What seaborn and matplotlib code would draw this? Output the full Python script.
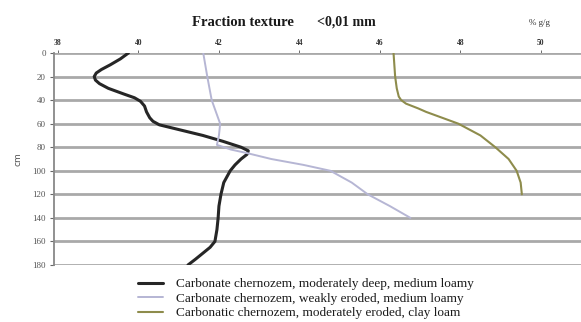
import numpy as np
import pandas as pd
import matplotlib
matplotlib.use("Agg")
import matplotlib.pyplot as plt
import seaborn as sns

# ---- data ----
s1_name = "Carbonate chernozem, moderately deep, medium loamy"
s1_depth = [0, 5, 10, 14, 17, 20, 23, 26, 30, 35, 38, 41, 45, 50, 55, 58, 61, 65, 70, 75, 80, 83, 86, 90, 95, 100, 110, 120, 130, 140, 150, 160, 165, 170, 175, 180]
s1_value = [39.75, 39.55, 39.3, 39.08, 38.95, 38.9, 38.93, 39.03, 39.25, 39.65, 39.9, 40.05, 40.15, 40.2, 40.28, 40.36, 40.52, 41.0, 41.6, 42.1, 42.55, 42.73, 42.7, 42.55, 42.4, 42.28, 42.12, 42.05, 42.0, 41.98, 41.95, 41.9, 41.78, 41.6, 41.42, 41.23]

s2_name = "Carbonate chernozem, weakly eroded, medium loamy"
s2_depth = [0, 20, 40, 60, 70, 78, 82, 85, 90, 95, 100, 110, 120, 130, 140]
s2_value = [41.61, 41.71, 41.82, 42.03, 42.0, 41.95, 42.3, 42.7, 43.3, 44.1, 44.77, 45.3, 45.7, 46.25, 46.76]

s3_name = "Carbonatic chernozem, moderately eroded, clay loam"
s3_depth = [0, 20, 30, 37, 40, 43, 47, 50, 60, 70, 80, 90, 100, 110, 120]
s3_value = [46.34, 46.38, 46.42, 46.47, 46.53, 46.65, 46.95, 47.15, 47.95, 48.5, 48.87, 49.2, 49.4, 49.5, 49.53]

x_ticks = [38, 40, 42, 44, 46, 48, 50]
y_ticks = [0, 20, 40, 60, 80, 100, 120, 140, 160, 180]

# ---- plot ----
sns.set_theme(style="white")
plt.rcParams["font.family"] = ["Liberation Serif", "DejaVu Serif"]

W, H = 581, 322
fig = plt.figure(figsize=(W / 100, H / 100), dpi=100)
ax = fig.add_axes([54 / W, 1 - 265 / H, (W - 54) / W, (265 - 53) / H])

series = [
    (s1_name, s1_depth, s1_value, "#262626", 2.2),
    (s2_name, s2_depth, s2_value, "#b6b6d4", 1.4),
    (s3_name, s3_depth, s3_value, "#8e8c4c", 1.5),
]

for name, d, v, col, lw in series:
    df = pd.DataFrame({"depth": d, "value": v})
    sns.lineplot(data=df, x="value", y="depth", sort=False, orient="y",
                 color=col, linewidth=lw, ax=ax, label=name, zorder=3)

handles, labels = ax.get_legend_handles_labels()
ax.get_legend().remove()

ax.set_xlim(37.9, 51.0)
ax.set_ylim(180, 0)
ax.set_xticks(x_ticks)
ax.set_yticks(y_ticks)
ax.xaxis.tick_top()
ax.tick_params(axis="x", which="both", top=True, bottom=False, length=2,
               labelsize=5.5, pad=2, colors="#555555", width=0.6)
ax.tick_params(axis="y", left=True, length=3, labelsize=6.5, pad=3,
               colors="#666666", width=0.8)
for lab in ax.get_xticklabels():
    lab.set_color("#333333")
    lab.set_fontweight("bold")
for lab in ax.get_yticklabels():
    lab.set_color("#555555")

ax.grid(False)
for yv in y_ticks:
    ax.axhline(yv, color="#a9a9a9", linewidth=2.0, zorder=1)

for sp in ["top", "right", "bottom"]:
    ax.spines[sp].set_visible(False)
ax.spines["left"].set_color("#888888")
ax.spines["left"].set_linewidth(1.3)

ax.set_xlabel("")
ax.set_ylabel("cm", fontsize=6.5, color="#555555", family=["DejaVu Sans"], labelpad=7)

fig.text(243 / W, 1 - 22 / H, "Fraction texture", ha="center", va="center",
         fontsize=10.5, fontweight="bold", color="#1a1a1a")
fig.text(346 / W, 1 - 22 / H, "<0,01 mm", ha="center", va="center",
         fontsize=10, fontweight="bold", color="#1a1a1a")
fig.text(539 / W, 1 - 23 / H, "% g/g", ha="center", va="center",
         fontsize=6.5, color="#333333")

fig.legend(handles, labels, loc="upper left", bbox_to_anchor=(138 / W, 1 - 278 / H),
           frameon=False, fontsize=9.5, handlelength=1.9, handletextpad=1.0,
           labelspacing=0.18, borderpad=0, borderaxespad=0, labelcolor="#1a1a1a")

fig.savefig("out.png", dpi=100)
